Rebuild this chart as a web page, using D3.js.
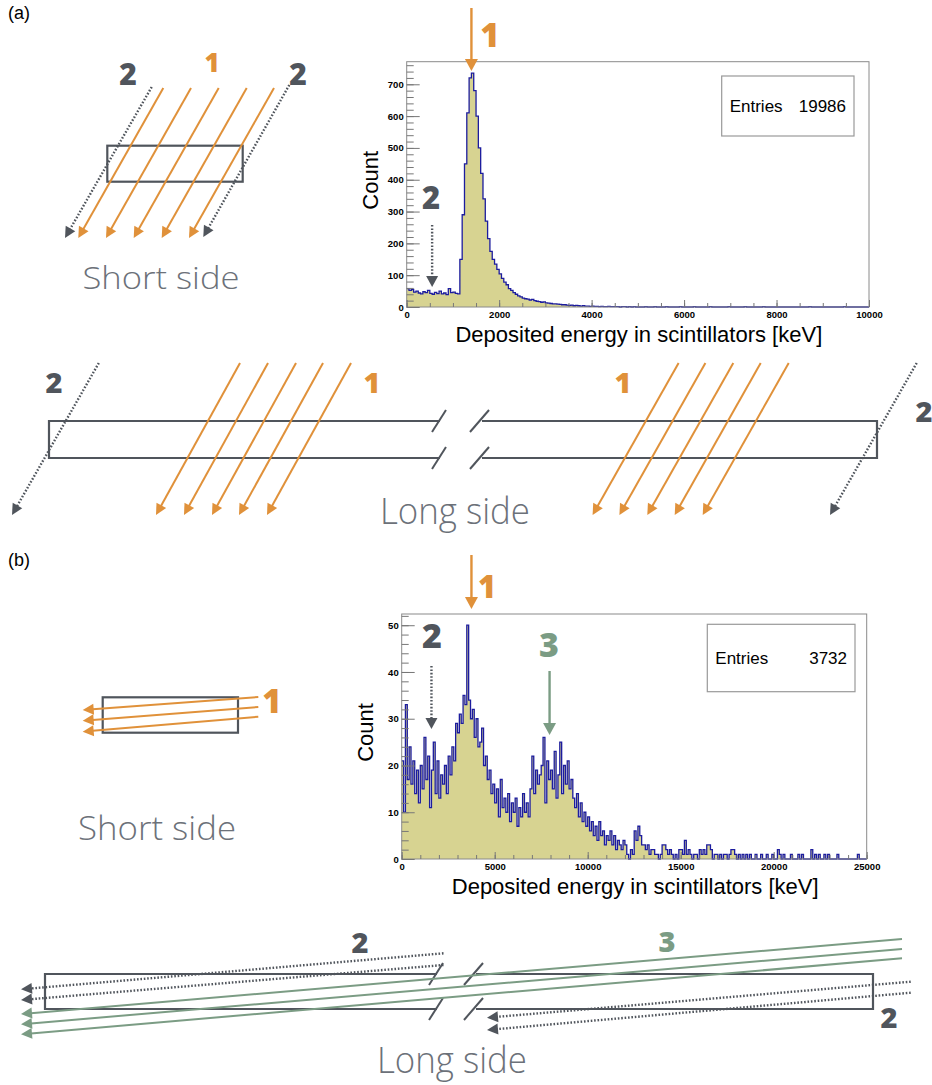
<!DOCTYPE html>
<html>
<head>
<meta charset="utf-8">
<script src="https://cdn.jsdelivr.net/npm/d3@7"></script>
<style>
  body { margin: 0; background: #fff; }
  svg { display: block; }
  .tick text { font-family: "Liberation Sans", Arial, sans-serif; font-weight: bold; font-size: 9.5px; fill: #000; }
  .tick line { stroke: #777; }
</style>
</head>
<body>
<div id="chart"></div>
<script>
// histogram (a): 50 keV bins from 0 to 10000 keV
const binA = 50;
const countsA = [
  58,52,55,47,50,44,41,48,45,52,43,40,46,42,50,41,44,39,58,45,47,43,41,
  150,290,450,610,720,735,680,600,500,420,340,270,215,175,150,135,118,104,
  90,78,70,58,52,45,40,35,32,28,26,25,22,24,20,18,17,15,16,13,
  12,11,10,10,9,8,7,7,6,5,6,4,5,4,3,4,3,3,2,3,
  2,2,1,2,1,1,2,1,1,1,1,0,1,1,0,1,0,1,0,0,
  0,0,1,0,0,0,1,0,0,0,0,1,0,0,0,0,0,1,0,0,
  0,0,0,1,0,0,0,0,0,0,1,0,0,0,0,0,0,0,1,0,
  0,0,0,0,0,1,0,0,0,0,0,0,0,1,0,0,0,0,0,0,
  0,0,0,0,0,0,0,0,0,0,0,0,0,1,0,0,0,0,0,0,
  0,0,0,0,0,0,0,0,1,0,0,0,0,0,0,0,0,0,0
];
const entriesA = "19986";

// histogram (b): 100 keV bins from 0 to 25000 keV
const binB = 100;
const countsB = [
  21,10,33,17,24,16,21,14,19,12,20,15,26,17,22,11,19,25,14,21,
  13,18,16,20,14,22,18,24,21,29,27,31,29,35,33,50,34,30,32,26,
  30,24,25,28,20,22,17,19,14,16,12,15,9,17,11,13,10,14,8,12,
  10,13,7,11,9,14,10,12,9,15,22,14,19,16,18,20,26,12,21,17,
  19,15,23,13,18,25,14,20,16,21,15,17,13,11,14,9,12,8,10,7,
  9,6,8,5,7,4,8,5,6,3,5,4,6,3,5,2,4,3,2,4,
  3,1,0,2,1,6,4,7,5,3,3,2,3,1,2,2,1,1,0,1,
  3,3,2,1,2,1,0,1,0,2,2,1,4,1,2,1,0,1,1,0,
  2,1,2,1,3,3,2,0,1,1,0,1,0,1,1,0,1,2,2,1,
  0,1,0,1,0,1,0,1,0,0,1,0,0,1,0,0,1,0,0,1,
  0,0,2,1,0,1,0,0,0,1,0,0,0,1,0,1,0,0,0,0,
  2,0,1,0,1,0,0,1,0,1,0,0,0,0,1,0,0,0,0,0,
  0,0,0,0,0,1,0,0,0,0
];
const entriesB = "3732";

const xTitle = "Deposited energy in scintillators [keV]";

const ORANGE = "#e0913a", GREY = "#50555c", GREEN = "#7b9c84", TEXTGREY = "#6c7179";
const W = 932, H = 1085;

const svg = d3.select("#chart").append("svg").attr("width", W).attr("height", H);

// ---------- helpers ----------
function arrow(g, x1, y1, x2, y2, color, dotted, hl = 11, hw = 5.5, sw = 2.2) {
  const dx = x2 - x1, dy = y2 - y1, L = Math.hypot(dx, dy);
  const ux = dx / L, uy = dy / L;
  const bx = x2 - ux * hl, by = y2 - uy * hl;
  g.append("line")
    .attr("x1", x1).attr("y1", y1).attr("x2", bx + ux * 1).attr("y2", by + uy * 1)
    .attr("stroke", color).attr("stroke-width", dotted ? 2.4 : sw)
    .attr("stroke-dasharray", dotted ? "1.6,1.8" : null);
  g.append("path")
    .attr("d", `M${x2},${y2}L${bx - uy * hw},${by + ux * hw}L${bx + uy * hw},${by - ux * hw}Z`)
    .attr("fill", color);
}

function label(g, x, y, txt, color, size) {
  g.append("text").attr("x", x).attr("y", y).attr("text-anchor", "middle")
    .attr("font-family", "'Open Sans', Lato, sans-serif").attr("font-weight", 800)
    .attr("font-size", size).attr("fill", color)
    .text(txt);
}

function sideText(g, x, y, txt, size, len) {
  g.append("text").attr("x", x).attr("y", y).attr("text-anchor", "middle")
    .attr("font-family", "'Open Sans', Lato, sans-serif").attr("font-weight", 300)
    .attr("font-size", size).attr("fill", TEXTGREY)
    .attr("textLength", len).attr("lengthAdjust", "spacingAndGlyphs").text(txt);
}

function brokenBar(g, x0, x1, y0, y1, gapL, gapR) {
  g.append("path")
    .attr("d", `M${gapL},${y0}H${x0}V${y1}H${gapL}M${gapR},${y0}H${x1}V${y1}H${gapR}`)
    .attr("stroke", GREY).attr("stroke-width", 2.2).attr("fill", "none");
  // break marks
  [y0, y1].forEach(yy => {
    [[gapL - 8, gapL + 6], [gapR - 12, gapR + 7]].forEach(([a, b]) => {
      g.append("line").attr("x1", a).attr("y1", yy + 11).attr("x2", b).attr("y2", yy - 11)
        .attr("stroke", GREY).attr("stroke-width", 2);
    });
  });
}

function histogram(cfg) {
  const g = svg.append("g");
  const x = d3.scaleLinear().domain([0, cfg.xmax]).range([cfg.left, cfg.right]);
  const y = d3.scaleLinear().domain([0, cfg.ymax]).range([cfg.bottom, cfg.top]);

  const pts = cfg.counts.map((c, i) => [i * cfg.bin, c]);
  pts.push([cfg.counts.length * cfg.bin, cfg.counts[cfg.counts.length - 1]]);

  g.append("path").datum(pts)
    .attr("d", d3.area().curve(d3.curveStepAfter).x(d => x(d[0])).y0(y(0)).y1(d => y(d[1])))
    .attr("fill", "#d7d391");
  g.append("path").datum(pts)
    .attr("d", d3.line().curve(d3.curveStepAfter).x(d => x(d[0])).y(d => y(d[1])))
    .attr("fill", "none").attr("stroke", "#1c1c9e").attr("stroke-width", 1.3);

  // frame
  g.append("rect").attr("x", cfg.left).attr("y", cfg.top)
    .attr("width", cfg.right - cfg.left).attr("height", cfg.bottom - cfg.top)
    .attr("fill", "none").attr("stroke", "#8a8a8a").attr("stroke-width", 1);

  // y axis, ticks pointing inward
  const yMinor = d3.range(0, cfg.ymax, cfg.yMinor);
  g.append("g").attr("transform", `translate(${cfg.left},0)`)
    .call(d3.axisLeft(y).tickValues(yMinor).tickSize(-7).tickFormat(""))
    .call(a => a.select(".domain").remove());
  g.append("g").attr("transform", `translate(${cfg.left},0)`)
    .call(d3.axisLeft(y).tickValues(d3.range(0, cfg.ymax, cfg.yMajor)).tickSize(-13).tickPadding(3))
    .call(a => a.select(".domain").remove());

  // x axis
  g.append("g").attr("transform", `translate(0,${cfg.bottom})`)
    .call(d3.axisBottom(x).tickValues(d3.range(0, cfg.xmax + 1, cfg.xMinor)).tickSize(-4).tickFormat(""))
    .call(a => a.select(".domain").remove());
  g.append("g").attr("transform", `translate(0,${cfg.bottom})`)
    .call(d3.axisBottom(x).tickValues(d3.range(0, cfg.xmax + 1, cfg.xMajor)).tickSize(-7).tickPadding(4).tickFormat(d3.format("d")))
    .call(a => a.select(".domain").remove());

  // titles
  g.append("text").attr("x", (cfg.left + cfg.right) / 2 + 1).attr("y", cfg.bottom + 35)
    .attr("text-anchor", "middle").attr("font-family", "'Liberation Sans', Arial, sans-serif")
    .attr("font-size", 22).text(xTitle);
  g.append("text").attr("transform", `translate(${cfg.left - 29},${(cfg.top + cfg.bottom) / 2 - 4}) rotate(-90)`)
    .attr("text-anchor", "middle").attr("font-family", "'Liberation Sans', Arial, sans-serif")
    .attr("font-size", 22).text("Count");

  // stats box
  const b = cfg.box;
  g.append("rect").attr("x", b[0]).attr("y", b[1]).attr("width", b[2] - b[0]).attr("height", b[3] - b[1])
    .attr("fill", "#fff").attr("stroke", "#999").attr("stroke-width", 1.2);
  g.append("text").attr("x", b[0] + 8).attr("y", (b[1] + b[3]) / 2 + 6)
    .attr("font-family", "'Liberation Sans', Arial, sans-serif").attr("font-size", 17).text("Entries");
  g.append("text").attr("x", b[2] - 8).attr("y", (b[1] + b[3]) / 2 + 6).attr("text-anchor", "end")
    .attr("font-family", "'Liberation Sans', Arial, sans-serif").attr("font-size", 17).text(cfg.entries);

  return { g, x, y };
}

// ---------- panel labels ----------
[["(a)", 19], ["(b)", 566]].forEach(([t, yy]) =>
  svg.append("text").attr("x", 8).attr("y", yy).attr("font-family", "'Liberation Sans', Arial, sans-serif")
    .attr("font-size", 18).text(t));

// ---------- (a) histogram ----------
const hA = histogram({
  counts: countsA, bin: binA, xmax: 10000, ymax: 771, entries: entriesA,
  left: 406.7, right: 869, top: 61.7, bottom: 307,
  yMajor: 100, yMinor: 20, xMajor: 2000, xMinor: 500,
  box: [721.7, 76, 854, 136]
});
arrow(hA.g, hA.x(1400), 8, hA.x(1400), 71, ORANGE, false, 12, 6.5, 2.4);
label(hA.g, 490, 47, "1", ORANGE, 33);
arrow(hA.g, hA.x(550), 225, hA.x(550), 287, GREY, true, 11, 6);
label(hA.g, 431, 209, "2", GREY, 31);

// ---------- (b) histogram ----------
const hB = histogram({
  counts: countsB, bin: binB, xmax: 25000, ymax: 52.4, entries: entriesB,
  left: 401.7, right: 866.7, top: 614, bottom: 859,
  yMajor: 10, yMinor: 2, xMajor: 5000, xMinor: 1000,
  box: [707.3, 624.3, 855, 691.7]
});
arrow(hB.g, hB.x(3750), 555, hB.x(3750), 609, ORANGE, false, 12, 6.5, 2.4);
label(hB.g, 487, 598, "1", ORANGE, 31);
arrow(hB.g, hB.x(1600), 666, hB.x(1600), 729, GREY, true, 11, 6);
label(hB.g, 432, 648, "2", GREY, 34);
arrow(hB.g, hB.x(7950), 671, hB.x(7950), 735, GREEN, false, 12, 6.5, 2.4);
label(hB.g, 549, 657, "3", GREEN, 34);

// ---------- (a) short side ----------
const dA = svg.append("g");
dA.append("rect").attr("x", 107.3).attr("y", 145.7).attr("width", 135.4).attr("height", 36)
  .attr("fill", "none").attr("stroke", GREY).attr("stroke-width", 2.2);
[163.3, 191, 218.7, 246.7, 274].forEach(x0 => arrow(dA, x0, 88, x0 - 85, 238, ORANGE, false, 11, 5.5, 2));
arrow(dA, 151.7, 87, 65, 238, GREY, true);
arrow(dA, 289.3, 85, 203.3, 237, GREY, true);
label(dA, 128, 85, "2", GREY, 30);
label(dA, 298, 85, "2", GREY, 30);
label(dA, 212, 72, "1", ORANGE, 26);
sideText(dA, 161, 289, "Short side", 31, 157);

// ---------- (a) long side ----------
const lA = svg.append("g");
brokenBar(lA, 49, 877, 421, 458, 440, 482);
[240, 268, 296, 323, 351].forEach(x0 => arrow(lA, x0, 363, x0 - 84, 515, ORANGE, false, 11, 5.5, 2));
[678.6, 705.4, 733.3, 760.7, 788.7].forEach(x0 => arrow(lA, x0, 363, x0 - 86, 515, ORANGE, false, 11, 5.5, 2));
arrow(lA, 98.8, 363, 12, 515, GREY, true);
arrow(lA, 916.7, 363, 830, 515, GREY, true);
label(lA, 54, 393, "2", GREY, 29);
label(lA, 372, 393, "1", ORANGE, 29);
label(lA, 623, 393, "1", ORANGE, 29);
label(lA, 924, 422, "2", GREY, 29);
sideText(lA, 455, 524, "Long side", 36, 150);

// ---------- (b) short side ----------
const dB = svg.append("g");
dB.append("rect").attr("x", 102.7).attr("y", 697.3).attr("width", 135.3).attr("height", 35.4)
  .attr("fill", "none").attr("stroke", GREY).attr("stroke-width", 2.2);
[[697, 710], [707, 720.7], [716.7, 731.7]].forEach(([y0, y1]) =>
  arrow(dB, 258.3, y0, 82.7, y1, ORANGE, false, 11, 5.5, 2));
label(dB, 272, 713, "1", ORANGE, 33);
sideText(dB, 157, 840, "Short side", 33, 158);

// ---------- (b) long side ----------
const lB = svg.append("g");
brokenBar(lB, 45, 873, 974, 1009, 437, 476);
arrow(lB, 443.5, 953.3, 21, 989.3, GREY, true);
arrow(lB, 443.5, 965, 21, 1000, GREY, true);
arrow(lB, 910.7, 981.7, 487, 1017.7, GREY, true);
arrow(lB, 910.7, 992.7, 487, 1030, GREY, true);
[[939, 1014], [949, 1024.3], [958.3, 1034.3]].forEach(([y0, y1]) =>
  arrow(lB, 902, y0, 21, y1, GREEN, false, 11, 5.5, 2));
label(lB, 360, 953, "2", GREY, 29);
label(lB, 667, 952, "3", GREEN, 29);
label(lB, 889, 1028, "2", GREY, 29);
sideText(lB, 452, 1073, "Long side", 36, 150);
</script>
</body>
</html>
